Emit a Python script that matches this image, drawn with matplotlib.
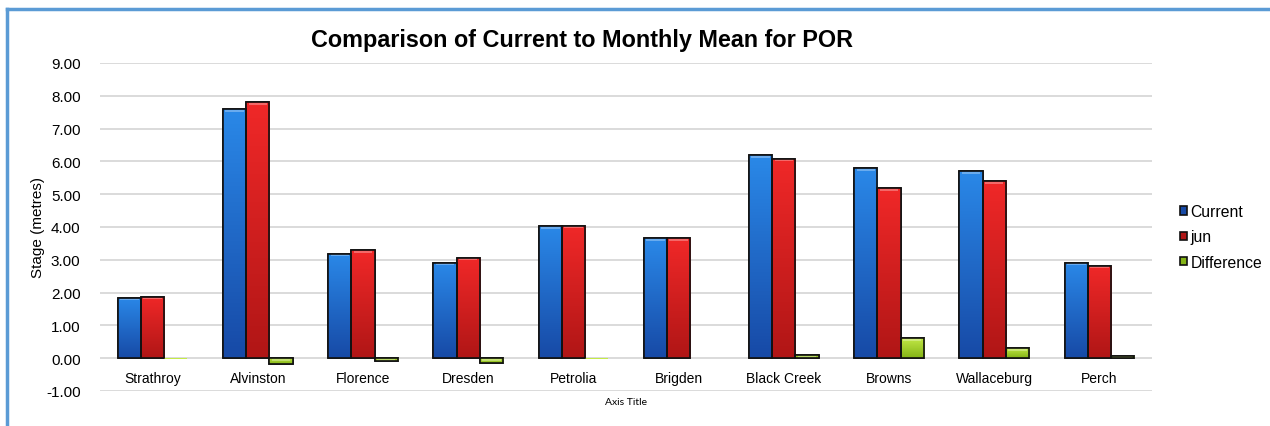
import numpy as np
import matplotlib.pyplot as plt
from matplotlib.colors import LinearSegmentedColormap
from matplotlib.lines import Line2D
from matplotlib.patches import Patch

plt.rcParams['font.family'] = ['Liberation Sans', 'DejaVu Sans']

# stations and stage values (metres)
stations = ['Strathroy', 'Alvinston', 'Florence', 'Dresden', 'Petrolia',
            'Brigden', 'Black Creek', 'Browns', 'Wallaceburg', 'Perch']
current = [1.84, 7.60, 3.19, 2.91, 4.03, 3.65, 6.18, 5.80, 5.71, 2.91]
jun = [1.87, 7.80, 3.29, 3.06, 4.04, 3.65, 6.08, 5.19, 5.40, 2.82]
difference = [-0.01, -0.19, -0.10, -0.15, -0.01, 0.0, 0.10, 0.61, 0.31, 0.08]

series = [('Current', current, '#2a88e8', '#174aa6'),
          ('jun', jun, '#f02828', '#b01616'),
          ('Difference', difference, '#c4ea48', '#84b416')]

fig = plt.figure(figsize=(12.7, 4.27), dpi=100)
ax = fig.add_axes([100/1270, 1-392/427, 1052/1270, 328/427])

x = np.arange(len(stations))
w = 0.22

handles = []
for i, (name, vals, c_top, c_bot) in enumerate(series):
    bars = ax.bar(x + (i - 1) * w, vals, w, color=c_top, edgecolor='#111111',
                  linewidth=1.2, zorder=3)
    cmap = LinearSegmentedColormap.from_list(name, [c_bot, c_top])
    grad = np.linspace(0, 1, 64).reshape(-1, 1)
    for b in bars:
        x0, y0 = b.get_x(), b.get_y()
        x1, y1 = x0 + b.get_width(), y0 + b.get_height()
        lo, hi = min(y0, y1), max(y0, y1)
        if hi - lo < 0.03:
            b.set_linewidth(0)
            continue
        im = ax.imshow(grad, extent=[x0, x1, lo, hi], origin='lower',
                       cmap=cmap, aspect='auto', zorder=3.5)
        im.set_clip_path(b)
        # light bevel along the top edge
        ax.bar(b.get_x() + b.get_width() / 2, 0.06, b.get_width() * 0.8,
               bottom=hi - 0.08, color='white', alpha=0.3, linewidth=0, zorder=4)
        ax.bar(b.get_x() + b.get_width() / 2, hi - lo, b.get_width(), bottom=lo,
               fill=False, edgecolor='#111111', linewidth=1.2, zorder=5)
    handles.append(Patch(facecolor=c_bot, edgecolor='#111111', linewidth=1.2))

ax.set_xlim(-0.5, len(stations) - 0.5)
ax.set_ylim(-1, 9)
ax.set_yticks(np.arange(-1, 10, 1))
ax.set_yticklabels(['%.2f' % v for v in np.arange(-1, 10, 1)], fontsize=11)
ax.set_xticks(x)
ax.set_xticklabels(stations, fontsize=11)
ax.spines['bottom'].set_position(('data', 0))
for s in ax.spines.values():
    s.set_visible(False)
ax.tick_params(axis='x', length=0, pad=9)
ax.tick_params(axis='y', length=0, pad=14)
ax.grid(axis='y', color='#d4d4d4', linewidth=1.2, zorder=0)
ax.set_axisbelow(True)

fig.text(38/1270, 1-228/427, 'Stage (metres)', rotation=90, ha='center',
         va='center', fontsize=11)
fig.text(626/1270, 1-403/427, 'Axis Title', ha='center', va='center',
         fontsize=7.5, family=['Lato', 'DejaVu Sans'])
fig.text(582/1270, 1-40/427, 'Comparison of Current to Monthly Mean for POR',
         ha='center', va='center', fontsize=16.8, fontweight='bold')

fig.legend(handles=handles, labels=[s[0] for s in series],
           loc='center left', bbox_to_anchor=(1174/1270, 1-238/427),
           frameon=False, fontsize=11.3, handlelength=0.45, handleheight=0.45,
           handletextpad=0.2, labelspacing=0.65, borderaxespad=0)

# blue chart-area frame
fig.add_artist(Line2D([7/1270, 7/1270], [0, 1-10/427], color='#5b9bd5', lw=2.5))
fig.add_artist(Line2D([7/1270, 1], [1-10/427, 1-10/427], color='#5b9bd5', lw=2.5))

fig.savefig('out.png', dpi=100)
